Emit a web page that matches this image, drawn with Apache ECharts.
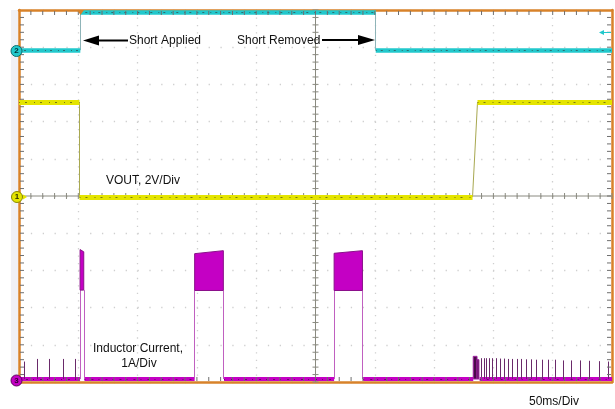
<!DOCTYPE html>
<html><head><meta charset="utf-8">
<script src="https://cdn.jsdelivr.net/npm/echarts@6/dist/echarts.min.js"></script>
<style>html,body{margin:0;padding:0;background:#fff}#c{width:615px;height:409px}</style>
</head><body><div id="c"></div>
<script>
// Screen units: x = time in ms (50 ms/div, 10 div), y = scope divisions (0 = bottom, 10 = top)
const timeMin = 0, timeMax = 500, timeDiv = 50;
const divMin = 0, divMax = 10;

// Channel 2 (cyan) step trace
const ch2Time  = [0, 51.7, 51.7, 300.8, 300.8, 500];
const ch2Level = [8.92, 8.92, 9.93, 9.93, 8.92, 8.92];

// Channel 1: VOUT, 2V/Div (yellow)
const ch1Time  = [0, 51.0, 51.0, 382.4, 386.6, 500];
const ch1Level = [7.52, 7.52, 4.97, 4.97, 7.52, 7.52];

// Channel 3: inductor current, 1A/Div (magenta)
const ch3Base = 0.08;
const pulseStart    = [51.5, 148.1, 265.7];
const pulseEnd      = [54.6, 172.3, 289.6];
const pulseLow      = [2.47, 2.46, 2.46];
const pulseTopStart = [3.56, 3.45, 3.46];
const pulseTopEnd   = [3.50, 3.53, 3.53];
const burstStart = [383.0, 386.2];
const burstEnd   = [386.2, 387.8];
const burstTop   = [0.69, 0.60];
const spikeTime = [4.1, 15.0, 25.7, 37.0, 47.7,
  390.0, 392.2, 394.2, 396.4, 399.2, 402.1, 405.5, 408.9, 412.5, 416.2, 420.1, 423.2,
  427.4, 431.6, 436.4, 441.5, 446.2, 451.9, 458.9, 466.0, 473.0, 480.6, 489.0, 496.9];
const spikeTop = [0.55, 0.62, 0.62, 0.62, 0.62,
  0.64, 0.64, 0.64, 0.64, 0.64, 0.64, 0.63, 0.63, 0.62, 0.62, 0.62, 0.62,
  0.61, 0.61, 0.60, 0.60, 0.60, 0.60, 0.58, 0.58, 0.58, 0.57, 0.56, 0.55];

// Colours
const C_CYAN = '#22c8cc', C_YEL = '#e4e400', C_MAG = '#c400c4', C_FRAME = '#d8822a';

function stepSegments(t, l) {
  const thick = [], thin = [];
  for (let i = 0; i < t.length - 1; i++) {
    const seg = { coords: [[t[i], l[i]], [t[i + 1], l[i + 1]]] };
    (l[i] === l[i + 1] ? thick : thin).push(seg);
  }
  return { thick, thin };
}
const ch2 = stepSegments(ch2Time, ch2Level);
const ch1 = stepSegments(ch1Time, ch1Level);

// magenta baseline segments, broken at pulses and restart burst
const gaps = pulseStart.map((s, i) => [s, pulseEnd[i]]);
gaps.push([Math.min(...burstStart), Math.max(...burstEnd)]);
const baseSegs = [];
let cur = timeMin;
gaps.forEach(g => { baseSegs.push({ coords: [[cur, ch3Base], [g[0], ch3Base]] }); cur = g[1] + 0.6; });
baseSegs.push({ coords: [[cur, ch3Base], [timeMax, ch3Base]] });

const pulseEdges = [];
pulseStart.forEach((s, i) => {
  pulseEdges.push({ coords: [[s, ch3Base], [s, pulseLow[i]]] });
  pulseEdges.push({ coords: [[pulseEnd[i], ch3Base], [pulseEnd[i], pulseLow[i]]] });
});
const pulseData = pulseStart.map((s, i) => [s, pulseEnd[i], pulseLow[i], pulseTopStart[i], pulseTopEnd[i]]);
const burstData = burstStart.map((s, i) => [s, burstEnd[i], ch3Base, burstTop[i], burstTop[i]]);
const spikeSegs = spikeTime.map((t, i) => ({ coords: [[t, ch3Base], [t, spikeTop[i]]] }));

function blockRender(fill, stroke) {
  return function (params, api) {
    const s = api.value(0), e = api.value(1), lo = api.value(2), ts = api.value(3), te = api.value(4);
    return {
      type: 'polygon',
      shape: { points: [api.coord([s, lo]), api.coord([s, ts]), api.coord([e, te]), api.coord([e, lo])] },
      style: { fill: fill, stroke: stroke, lineWidth: 1 }
    };
  };
}

// centre graticule cross with ticks
function crossRender(params, api) {
  const cx = (timeMin + timeMax) / 2, cy = (divMin + divMax) / 2;
  const ch = [];
  const st = { stroke: '#8a8a80', lineWidth: 1 };
  const a = api.coord([timeMin, cy]), b = api.coord([timeMax, cy]);
  ch.push({ type: 'line', shape: { x1: a[0], y1: a[1], x2: b[0], y2: b[1] }, style: st });
  const c = api.coord([cx, divMin]), d = api.coord([cx, divMax]);
  ch.push({ type: 'line', shape: { x1: c[0], y1: c[1], x2: d[0], y2: d[1] }, style: st });
  for (let t = timeMin; t <= timeMax; t += timeDiv / 5) {
    const p = api.coord([t, cy]);
    ch.push({ type: 'line', shape: { x1: p[0], y1: p[1] - 3, x2: p[0], y2: p[1] + 3 }, style: st });
  }
  for (let v = divMin; v <= divMax + 1e-9; v += 0.2) {
    const p = api.coord([cx, v]);
    ch.push({ type: 'line', shape: { x1: p[0] - 3, y1: p[1], x2: p[0] + 3, y2: p[1] }, style: st });
  }
  return { type: 'group', children: ch };
}

// frame ticks (inside, on all four edges)
function frameTickRender(params, api) {
  const ch = [];
  const st = { stroke: '#6e6e6e', lineWidth: 1 };
  for (let t = timeMin + timeDiv / 5; t < timeMax - 1e-9; t += timeDiv / 5) {
    const p = api.coord([t, divMax]), q = api.coord([t, divMin]);
    ch.push({ type: 'line', shape: { x1: p[0], y1: p[1] + 1, x2: p[0], y2: p[1] + 5 }, style: st });
    ch.push({ type: 'line', shape: { x1: q[0], y1: q[1] - 1, x2: q[0], y2: q[1] - 5 }, style: st });
  }
  for (let v = divMin + 0.2; v < divMax - 1e-9; v += 0.2) {
    const p = api.coord([timeMin, v]), q = api.coord([timeMax, v]);
    ch.push({ type: 'line', shape: { x1: p[0] + 1, y1: p[1], x2: p[0] + 5, y2: p[1] }, style: st });
    ch.push({ type: 'line', shape: { x1: q[0] - 1, y1: q[1], x2: q[0] - 5, y2: q[1] }, style: st });
  }
  return { type: 'group', children: ch };
}

const axisCommon = {
  type: 'value', axisLabel: { show: false },
  axisLine: { show: true, onZero: false, lineStyle: { color: C_FRAME, width: 2.5 } },
  axisTick: { show: false }, minorTick: { show: false }
};

const chart = echarts.init(document.getElementById('c'), null, { renderer: 'canvas' });
const lineSeries = (name, data, color, width, z, dash) => ({
  type: 'lines', name, coordinateSystem: 'cartesian2d', polyline: false, data, z,
  lineStyle: { color, width, opacity: 1, cap: 'butt', type: dash || 'solid' }, silent: true, animation: false
});

chart.setOption({
  animation: false,
  backgroundColor: '#fff',
  grid: { left: 19, top: 10, right: 3, bottom: 27 },
  xAxis: [
    Object.assign({}, axisCommon, { position: 'bottom', min: timeMin, max: timeMax, interval: timeDiv,
      splitLine: { show: true, lineStyle: { color: '#cfcfcf', width: 1.3, type: [1.3, 6.14] } } }),
    Object.assign({}, axisCommon, { position: 'top', min: timeMin, max: timeMax, interval: timeDiv, splitLine: { show: false } })
  ],
  yAxis: [
    Object.assign({}, axisCommon, { position: 'left', min: divMin, max: divMax, interval: 1,
      splitLine: { show: true, lineStyle: { color: '#cfcfcf', width: 1.3, type: [1.3, 10.55] } } }),
    Object.assign({}, axisCommon, { position: 'right', min: divMin, max: divMax, interval: 1, splitLine: { show: false } })
  ],
  series: [
    { type: 'custom', name: 'center', renderItem: crossRender, data: [[250, 5]], z: 2, silent: true },
    lineSeries('ch2 edges', ch2.thin, '#8fb4b8', 1, 3),
    lineSeries('ch2', ch2.thick, C_CYAN, 4.5, 4),
    lineSeries('ch2 noise', ch2.thick, '#2d6e70', 1.2, 4.5, [1, 4, 2, 6]),
    lineSeries('ch1 edges', ch1.thin, '#a8a850', 1, 3),
    lineSeries('VOUT', ch1.thick, C_YEL, 5, 4),
    lineSeries('VOUT noise', ch1.thick, '#7a7a10', 1.2, 4.5, [1, 5, 2, 7]),
    lineSeries('IL base', baseSegs, C_MAG, 4, 5),
    lineSeries('IL noise', baseSegs, '#6a0a6a', 1, 5.5, [1, 6, 2, 5]),
    lineSeries('IL edges', pulseEdges, '#c060c0', 1, 5),
    lineSeries('IL spikes', spikeSegs, '#6a2a6a', 1, 5),
    { type: 'custom', name: 'IL pulses', renderItem: blockRender(C_MAG, '#8a108a'), data: pulseData, z: 6, silent: true },
    { type: 'custom', name: 'IL burst', renderItem: blockRender('#4a0a4a', '#a020a0'), data: burstData, z: 6, silent: true },
    { type: 'custom', name: 'frame ticks', renderItem: frameTickRender, data: [[0, 0]], z: 8, silent: true }
  ],
  graphic: [
    { type: 'rect', shape: { x: 11, y: 10, width: 7, height: 373 }, style: { fill: '#f1f1f6' }, z: 0 },
    // trigger position marker
    { type: 'polygon', shape: { points: [[77, 10], [84, 10], [80.5, 15]] }, style: { fill: C_FRAME }, z: 20 },
    // trigger level arrow (right)
    { type: 'polygon', shape: { points: [[599, 32.5], [604, 30], [604, 35]] }, style: { fill: C_CYAN }, z: 20 },
    { type: 'line', shape: { x1: 603, y1: 32.5, x2: 611, y2: 32.5 }, style: { stroke: C_CYAN, lineWidth: 1 }, z: 20 },
    // channel markers
    { type: 'circle', shape: { cx: 16.5, cy: 51, r: 5.5 }, style: { fill: C_CYAN, stroke: '#107070', lineWidth: 1 }, z: 20 },
    { type: 'text', x: 16.5, y: 51, style: { text: '2', fontSize: 8, fontWeight: 'bold', fill: '#003030', align: 'center', verticalAlign: 'middle', fontFamily: 'Liberation Sans' }, z: 21 },
    { type: 'circle', shape: { cx: 17, cy: 197, r: 5.5 }, style: { fill: C_YEL, stroke: '#8a8a00', lineWidth: 1 }, z: 20 },
    { type: 'text', x: 17, y: 197, style: { text: '1', fontSize: 8, fontWeight: 'bold', fill: '#303000', align: 'center', verticalAlign: 'middle', fontFamily: 'Liberation Sans' }, z: 21 },
    { type: 'polygon', shape: { points: [[23, 194.5], [27, 197], [23, 199.5]] }, style: { fill: C_YEL }, z: 20 },
    { type: 'circle', shape: { cx: 16.5, cy: 380.5, r: 5.5 }, style: { fill: C_MAG, stroke: '#600060', lineWidth: 1 }, z: 20 },
    { type: 'text', x: 16.5, y: 380.5, style: { text: '3', fontSize: 8, fontWeight: 'bold', fill: '#300030', align: 'center', verticalAlign: 'middle', fontFamily: 'Liberation Sans' }, z: 21 },
    // annotations
    { type: 'polygon', shape: { points: [[83, 40.5], [99, 35.5], [99, 45.5]] }, style: { fill: '#000' }, z: 20 },
    { type: 'line', shape: { x1: 98, y1: 40.5, x2: 128, y2: 40.5 }, style: { stroke: '#000', lineWidth: 2 }, z: 20 },
    { type: 'text', x: 129, y: 41, style: { text: 'Short Applied', fontSize: 12, fontFamily: 'Liberation Sans', fill: '#111', verticalAlign: 'middle' }, z: 20 },
    { type: 'text', x: 237, y: 40.5, style: { text: 'Short Removed', fontSize: 12, fontFamily: 'Liberation Sans', fill: '#111', verticalAlign: 'middle' }, z: 20 },
    { type: 'line', shape: { x1: 322, y1: 40, x2: 360, y2: 40 }, style: { stroke: '#000', lineWidth: 2 }, z: 20 },
    { type: 'polygon', shape: { points: [[375, 40], [358, 35], [358, 45]] }, style: { fill: '#000' }, z: 20 },
    { type: 'text', x: 106, y: 181, style: { text: 'VOUT, 2V/Div', fontSize: 12, fontFamily: 'Liberation Sans', fill: '#111', verticalAlign: 'middle' }, z: 20 },
    { type: 'text', x: 138, y: 349, style: { text: 'Inductor Current,', fontSize: 12, fontFamily: 'Liberation Sans', fill: '#111', align: 'center', verticalAlign: 'middle' }, z: 20 },
    { type: 'text', x: 139, y: 364, style: { text: '1A/Div', fontSize: 12, fontFamily: 'Liberation Sans', fill: '#111', align: 'center', verticalAlign: 'middle' }, z: 20 },
    { type: 'text', x: 529, y: 401.5, style: { text: '50ms/Div', fontSize: 12, fontFamily: 'Liberation Sans', fill: '#111', verticalAlign: 'middle' }, z: 20 }
  ]
});
</script></body></html>
